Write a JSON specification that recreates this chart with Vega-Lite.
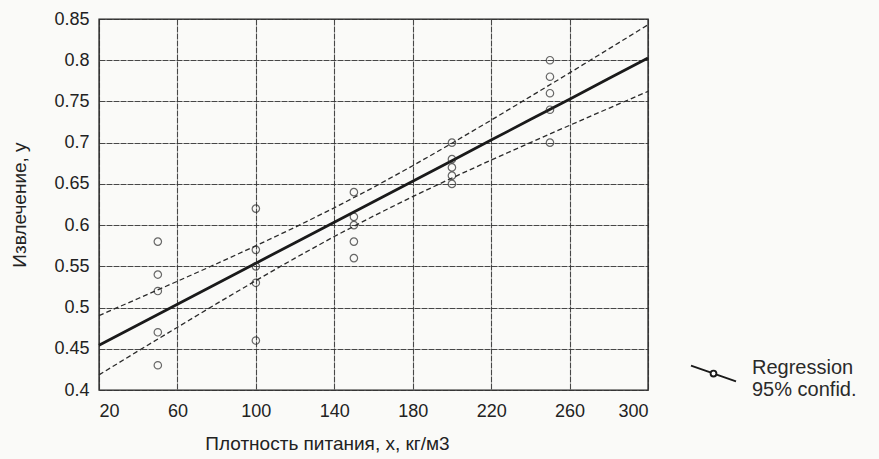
{
  "$schema": "https://vega.github.io/schema/vega-lite/v6.json",
  "width": 549,
  "height": 371,
  "autosize": "none",
  "padding": {"left": 99, "top": 19, "right": 231, "bottom": 69},
  "background": "#fafaf8",
  "config": {
    "font": "Liberation Sans",
    "view": {"stroke": "#222222", "strokeWidth": 1.4},
    "axis": {
      "labelFontSize": 18,
      "labelColor": "#222222",
      "titleFontSize": 19,
      "titleFontWeight": "normal",
      "titleColor": "#222222",
      "gridColor": "#333333",
      "gridDash": [6, 1],
      "gridWidth": 1.1,
      "gridOpacity": 0.9,
      "domain": false,
      "ticks": false
    }
  },
  "datasets": {
    "points": [
      {"x": 50, "y": 0.58}, {"x": 50, "y": 0.54}, {"x": 50, "y": 0.52}, {"x": 50, "y": 0.47}, {"x": 50, "y": 0.43},
      {"x": 100, "y": 0.62}, {"x": 100, "y": 0.57}, {"x": 100, "y": 0.55}, {"x": 100, "y": 0.53}, {"x": 100, "y": 0.46},
      {"x": 150, "y": 0.64}, {"x": 150, "y": 0.61}, {"x": 150, "y": 0.60}, {"x": 150, "y": 0.58}, {"x": 150, "y": 0.56},
      {"x": 200, "y": 0.70}, {"x": 200, "y": 0.68}, {"x": 200, "y": 0.67}, {"x": 200, "y": 0.66}, {"x": 200, "y": 0.65},
      {"x": 250, "y": 0.80}, {"x": 250, "y": 0.78}, {"x": 250, "y": 0.76}, {"x": 250, "y": 0.74}, {"x": 250, "y": 0.70}
    ],
    "fit": [
      {"x": 20, "fit": 0.4543, "upper": 0.4903, "lower": 0.4183},
      {"x": 40, "fit": 0.4792, "upper": 0.5110, "lower": 0.4474},
      {"x": 60, "fit": 0.5040, "upper": 0.5319, "lower": 0.4761},
      {"x": 80, "fit": 0.5289, "upper": 0.5531, "lower": 0.5047},
      {"x": 100, "fit": 0.5538, "upper": 0.5749, "lower": 0.5327},
      {"x": 120, "fit": 0.5787, "upper": 0.5974, "lower": 0.5600},
      {"x": 140, "fit": 0.6036, "upper": 0.6210, "lower": 0.5862},
      {"x": 160, "fit": 0.6284, "upper": 0.6458, "lower": 0.6110},
      {"x": 180, "fit": 0.6533, "upper": 0.6720, "lower": 0.6346},
      {"x": 200, "fit": 0.6782, "upper": 0.6993, "lower": 0.6571},
      {"x": 220, "fit": 0.7031, "upper": 0.7273, "lower": 0.6789},
      {"x": 240, "fit": 0.7280, "upper": 0.7559, "lower": 0.7001},
      {"x": 260, "fit": 0.7528, "upper": 0.7846, "lower": 0.7210},
      {"x": 280, "fit": 0.7777, "upper": 0.8137, "lower": 0.7417},
      {"x": 300, "fit": 0.8026, "upper": 0.8430, "lower": 0.7622}
    ]
  },
  "layer": [
    {
      "data": {"name": "fit"},
      "mark": {"type": "line", "color": "#2a2a2a", "strokeWidth": 1.3, "strokeDash": [5, 3]},
      "encoding": {
        "x": {"field": "x", "type": "quantitative", "scale": {"domain": [20, 300], "nice": false, "zero": false},
          "axis": {"values": [20, 60, 100, 140, 180, 220, 260, 300], "title": "Плотность питания, х, кг/м3", "labelPadding": 12, "titlePadding": 14, "titleX": 228, "titleAnchor": "middle", "titleAlign": "center"}},
        "y": {"field": "upper", "type": "quantitative", "scale": {"domain": [0.4, 0.85], "nice": false, "zero": false},
          "axis": {"values": [0.4, 0.45, 0.5, 0.55, 0.6, 0.65, 0.7, 0.75, 0.8, 0.85], "format": "~g", "title": "Извлечение, у", "labelPadding": 10, "titlePadding": 24}}
      }
    },
    {
      "data": {"name": "fit"},
      "mark": {"type": "line", "color": "#2a2a2a", "strokeWidth": 1.3, "strokeDash": [5, 3]},
      "encoding": {
        "x": {"field": "x", "type": "quantitative"},
        "y": {"field": "lower", "type": "quantitative"}
      }
    },
    {
      "data": {"name": "fit"},
      "mark": {"type": "line", "strokeWidth": 2.8},
      "encoding": {
        "x": {"field": "x", "type": "quantitative"},
        "y": {"field": "fit", "type": "quantitative"},
        "color": {
          "datum": "Regression",
          "scale": {"range": ["#1a1a1a"]},
          "legend": {
            "title": null,
            "orient": "none",
            "legendX": 591,
            "legendY": 331,
            "padding": 0,
            "symbolType": "M-1,-0.35L-0.14,-0.05M0.14,0.05L1,0.35M0.13,0A0.13,0.13 0 1 1 -0.13,0A0.13,0.13 0 1 1 0.13,0Z",
            "symbolSize": 2025,
            "symbolStrokeWidth": 1.9,
            "symbolFillColor": "#ffffff",
            "labelExpr": "['Regression', '95% confid.']",
            "labelFontSize": 20,
            "labelColor": "#2a2a2a",
            "labelBaseline": "alphabetic",
            "labelOffset": 15,
            "labelLimit": 300
          }
        }
      }
    },
    {
      "data": {"name": "points"},
      "mark": {"type": "point", "shape": "circle", "filled": false, "color": "#2a2a2a", "size": 55, "strokeWidth": 1.2},
      "encoding": {
        "x": {"field": "x", "type": "quantitative"},
        "y": {"field": "y", "type": "quantitative"}
      }
    }
  ]
}
